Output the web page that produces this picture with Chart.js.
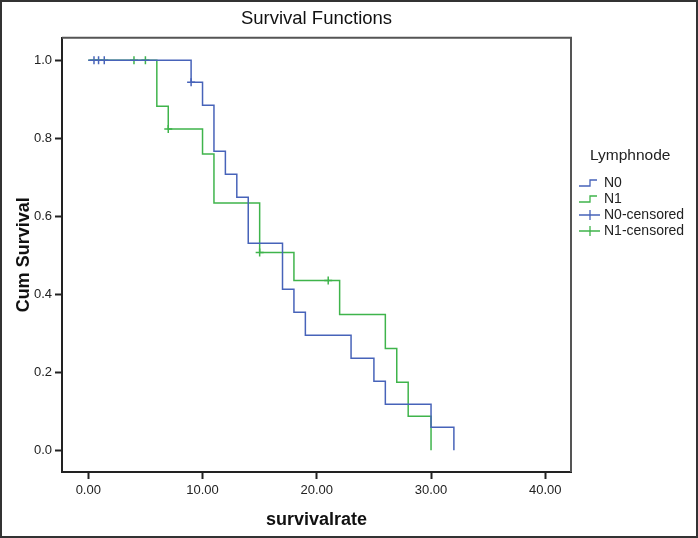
<!DOCTYPE html>
<html>
<head>
<meta charset="utf-8">
<title>Survival Functions</title>
<script src="https://cdn.jsdelivr.net/npm/chart.js@4.4.1/dist/chart.umd.min.js"></script>
<style>
  html, body { margin: 0; padding: 0; background: #fff; }
  #wrap { width: 698px; height: 538px; }
</style>
</head>
<body>
<div id="wrap"><canvas id="survChart" width="698" height="538"></canvas></div>
<script>
// Kaplan-Meier steps
const n0Times = [0, 9, 10, 11, 12, 13, 14, 17, 18, 19, 23, 25, 26, 30, 32];
const n0Surv = [1, 0.944, 0.885, 0.767, 0.708, 0.649, 0.531, 0.413, 0.354, 0.295, 0.236, 0.177, 0.118, 0.059, 0];
const n1Times = [0, 6, 7, 10, 11, 15, 18, 22, 26, 27, 28, 30];
const n1Surv = [1, 0.882, 0.824, 0.760, 0.634, 0.507, 0.435, 0.348, 0.261, 0.174, 0.087, 0];

// censored observations
const n0CensTimes = [0.5, 0.9, 1.4, 9];
const n0CensSurv = [1, 1, 1, 0.944];
const n1CensTimes = [4, 5, 7, 15, 21];
const n1CensSurv = [1, 1, 0.824, 0.507, 0.435];

const xTicks = [0, 10, 20, 30, 40];
const yTicks = [0, 0.2, 0.4, 0.6, 0.8, 1.0];

const BLUE = '#4763b9';
const GREEN = '#3fb44b';
const FONT = '"Liberation Sans", Arial, sans-serif';

function toPoints(xs, ys) {
    return xs.map((x, i) => ({ x: x, y: ys[i] }));
}

// legend drawn at the right, SPSS style
const sideLegend = {
    id: 'sideLegend',
    afterDraw(chart) {
        const ctx = chart.ctx;
        ctx.save();
        ctx.fillStyle = '#222';
        ctx.font = '15.5px ' + FONT;
        ctx.textBaseline = 'middle';
        ctx.fillText('Lymphnode', 590, 156);

        ctx.font = '14px ' + FONT;
        chart.data.datasets.forEach((ds, i) => {
            const y = 183 + i * 16;
            ctx.strokeStyle = ds.borderColor;
            ctx.lineWidth = 1.3;
            ctx.beginPath();
            if (ds.showLine) {
                ctx.moveTo(579, y + 3);
                ctx.lineTo(590, y + 3);
                ctx.lineTo(590, y - 3);
                ctx.lineTo(597, y - 3);
            } else {
                ctx.moveTo(579, y);
                ctx.lineTo(600, y);
                ctx.moveTo(590, y - 5);
                ctx.lineTo(590, y + 5);
            }
            ctx.stroke();
            ctx.fillStyle = '#222';
            ctx.fillText(ds.label, 604, y);
        });
        ctx.restore();
    }
};

// plot frame (top/right) and picture border
const frame = {
    id: 'frame',
    afterDraw(chart) {
        const ctx = chart.ctx;
        const a = chart.chartArea;
        ctx.save();
        ctx.strokeStyle = '#555';
        ctx.lineWidth = 2;
        ctx.beginPath();
        ctx.moveTo(a.left, a.top);
        ctx.lineTo(a.right, a.top);
        ctx.lineTo(a.right, a.bottom);
        ctx.stroke();
        ctx.strokeStyle = '#333';
        ctx.strokeRect(1, 1, chart.width - 2, chart.height - 2);
        ctx.restore();
    }
};

const ctx = document.getElementById('survChart');
new Chart(ctx, {
    type: 'scatter',
    data: {
        datasets: [
            {
                label: 'N0',
                data: toPoints(n0Times, n0Surv),
                showLine: true,
                stepped: true,
                borderColor: BLUE,
                borderWidth: 1.5,
                pointRadius: 0
            },
            {
                label: 'N1',
                data: toPoints(n1Times, n1Surv),
                showLine: true,
                stepped: true,
                borderColor: GREEN,
                borderWidth: 1.5,
                pointRadius: 0
            },
            {
                label: 'N0-censored',
                data: toPoints(n0CensTimes, n0CensSurv),
                showLine: false,
                pointStyle: 'cross',
                pointRadius: 4,
                borderColor: BLUE,
                borderWidth: 1.5
            },
            {
                label: 'N1-censored',
                data: toPoints(n1CensTimes, n1CensSurv),
                showLine: false,
                pointStyle: 'cross',
                pointRadius: 4,
                borderColor: GREEN,
                borderWidth: 1.5
            }
        ]
    },
    options: {
        responsive: false,
        animation: false,
        layout: { padding: { left: 0, right: 127, top: 0, bottom: 0 } },
        plugins: {
            legend: { display: false },
            tooltip: { enabled: false },
            title: {
                display: true,
                fullSize: false,
                text: 'Survival Functions',
                color: '#111',
                font: { family: FONT, size: 18.5, weight: 'normal' },
                padding: { top: 8, bottom: 7.5 }
            }
        },
        scales: {
            x: {
                type: 'linear',
                min: -2.3,
                max: 42.25,
                afterBuildTicks: s => { s.ticks = xTicks.map(v => ({ value: v })); },
                afterFit: s => { s.height = 66; },
                ticks: {
                    color: '#222',
                    font: { family: FONT, size: 13 },
                    padding: 4,
                    callback: v => Number(v).toFixed(2)
                },
                grid: { drawOnChartArea: false, drawTicks: true, tickLength: 7, color: '#222', tickWidth: 2 },
                border: { color: '#222', width: 2 },
                title: {
                    display: true,
                    text: 'survivalrate',
                    color: '#111',
                    font: { family: FONT, size: 18, weight: 'bold' },
                    padding: { top: 0, bottom: 7 }
                }
            },
            y: {
                type: 'linear',
                min: -0.056,
                max: 1.058,
                afterBuildTicks: s => { s.ticks = yTicks.map(v => ({ value: v })); },
                afterFit: s => { s.width = 62; },
                ticks: {
                    color: '#222',
                    font: { family: FONT, size: 13 },
                    padding: 3,
                    callback: v => Number(v).toFixed(1)
                },
                grid: { drawOnChartArea: false, drawTicks: true, tickLength: 7, color: '#222', tickWidth: 2 },
                border: { color: '#222', width: 2 },
                title: {
                    display: true,
                    text: 'Cum Survival',
                    color: '#111',
                    font: { family: FONT, size: 18, weight: 'bold' },
                    padding: { top: 13, bottom: 0 }
                }
            }
        }
    },
    plugins: [sideLegend, frame]
});
</script>
</body>
</html>
